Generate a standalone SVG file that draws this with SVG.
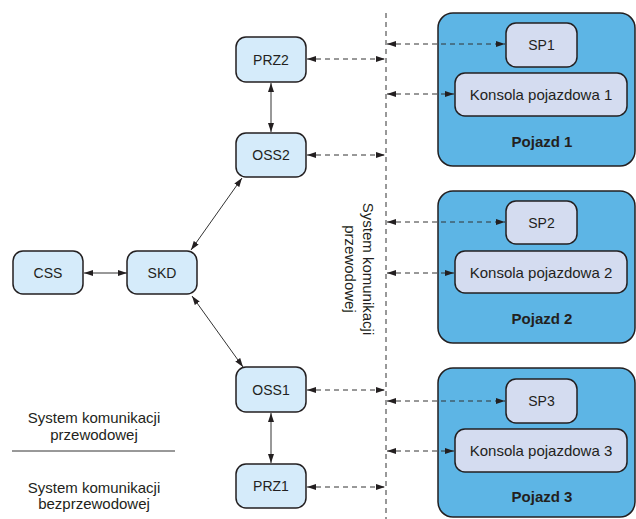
<svg xmlns="http://www.w3.org/2000/svg" width="636" height="519" viewBox="0 0 636 519">
<defs>
<marker id="ah" viewBox="0 0 9 6" refX="9" refY="3" markerWidth="9" markerHeight="6" markerUnits="userSpaceOnUse" orient="auto-start-reverse">
<path d="M0,0 L9,3 L0,6 z" fill="#231f20"/>
</marker>
<style>
.node{fill:#d5ebfa;stroke:#231f20;stroke-width:1.5}
.sub{fill:#d4dcf0;stroke:#231f20;stroke-width:1.5}
.veh{fill:#5db5e5;stroke:#231f20;stroke-width:1.5}
text{font-family:"Liberation Sans",Arial,sans-serif;fill:#231f20}
.lbl{font-size:14px;text-anchor:middle}
.lbl15{font-size:15px;text-anchor:middle}
.bold{font-size:15px;font-weight:bold;text-anchor:middle}
.note{font-size:15px;text-anchor:middle}
.solid{stroke:#333;stroke-width:1;fill:none;marker-start:url(#ah);marker-end:url(#ah)}
.dash{stroke:#333;stroke-width:1;fill:none;stroke-dasharray:5,4;marker-start:url(#ah);marker-end:url(#ah)}
</style>
</defs>
<rect width="636" height="519" fill="#fff"/>

<g id="pojazd1">
<rect class="veh" x="438" y="13" width="197" height="153" rx="15"/>
<text class="bold" x="542" y="147">Pojazd 1</text>
</g>
<g id="sp1">
<rect class="sub" x="506" y="23" width="71" height="44" rx="10"/>
<text class="lbl" x="541.5" y="50">SP1</text>
</g>
<g id="konsola1">
<rect class="sub" x="455" y="73" width="172" height="43" rx="10"/>
<text class="lbl15" x="541" y="99.5">Konsola pojazdowa 1</text>
</g>

<g id="pojazd2">
<rect class="veh" x="438" y="191" width="197" height="152" rx="15"/>
<text class="bold" x="542" y="324">Pojazd 2</text>
</g>
<g id="sp2">
<rect class="sub" x="506" y="201" width="71" height="43" rx="10"/>
<text class="lbl" x="541.5" y="227.5">SP2</text>
</g>
<g id="konsola2">
<rect class="sub" x="455" y="251" width="172" height="42" rx="10"/>
<text class="lbl15" x="541" y="277.5">Konsola pojazdowa 2</text>
</g>

<g id="pojazd3">
<rect class="veh" x="438" y="368" width="197" height="149" rx="15"/>
<text class="bold" x="542" y="502">Pojazd 3</text>
</g>
<g id="sp3">
<rect class="sub" x="506" y="379" width="71" height="44" rx="10"/>
<text class="lbl" x="541.5" y="406">SP3</text>
</g>
<g id="konsola3">
<rect class="sub" x="455" y="429" width="172" height="43" rx="10"/>
<text class="lbl15" x="541" y="455.5">Konsola pojazdowa 3</text>
</g>

<g id="prz2">
<rect class="node" x="236" y="37" width="70" height="45" rx="10"/>
<text class="lbl" x="271" y="64.5">PRZ2</text>
</g>
<g id="oss2">
<rect class="node" x="236" y="133" width="70" height="44" rx="10"/>
<text class="lbl" x="271" y="160">OSS2</text>
</g>
<g id="css">
<rect class="node" x="13" y="251" width="70" height="43" rx="10"/>
<text class="lbl" x="48" y="277.5">CSS</text>
</g>
<g id="skd">
<rect class="node" x="127" y="251" width="70" height="43" rx="10"/>
<text class="lbl" x="162" y="277.5">SKD</text>
</g>
<g id="oss1">
<rect class="node" x="236" y="367" width="70" height="45" rx="10"/>
<text class="lbl" x="271" y="394.5">OSS1</text>
</g>
<g id="prz1">
<rect class="node" x="236" y="464" width="70" height="44" rx="10"/>
<text class="lbl" x="271" y="491">PRZ1</text>
</g>

<g id="connectors">
<line x1="386" y1="13" x2="386" y2="519" stroke="#333" stroke-width="1" stroke-dasharray="5,4"/>
<line class="solid" x1="271" y1="83" x2="271" y2="132"/>
<line class="solid" x1="271" y1="413" x2="271" y2="463"/>
<line class="solid" x1="84" y1="273" x2="127" y2="273"/>
<line class="solid" x1="191" y1="250" x2="242" y2="178"/>
<line class="solid" x1="192" y1="296" x2="243" y2="367"/>
<line class="dash" x1="307" y1="59" x2="385" y2="59"/>
<line class="dash" x1="307" y1="155" x2="385" y2="155"/>
<line class="dash" x1="307" y1="390" x2="385" y2="390"/>
<line class="dash" x1="307" y1="487" x2="385" y2="487"/>
<line class="dash" x1="387" y1="44" x2="505" y2="44"/>
<line class="dash" x1="387" y1="94" x2="454" y2="94"/>
<line class="dash" x1="387" y1="222" x2="505" y2="222"/>
<line class="dash" x1="387" y1="273" x2="454" y2="273"/>
<line class="dash" x1="387" y1="401" x2="505" y2="401"/>
<line class="dash" x1="387" y1="451" x2="454" y2="451"/>
</g>

<g id="labels">
<text class="note" transform="translate(363,269) rotate(90)"><tspan x="0" y="0">System komunikacji</tspan><tspan x="0" y="18">przewodowej</tspan></text>
<text class="note" x="94" y="423">System komunikacji</text>
<text class="note" x="94" y="440">przewodowej</text>
<line x1="12" y1="451" x2="175" y2="451" stroke="#333" stroke-width="1"/>
<text class="note" x="94" y="493">System komunikacji</text>
<text class="note" x="94" y="509">bezprzewodowej</text>
</g>
</svg>
